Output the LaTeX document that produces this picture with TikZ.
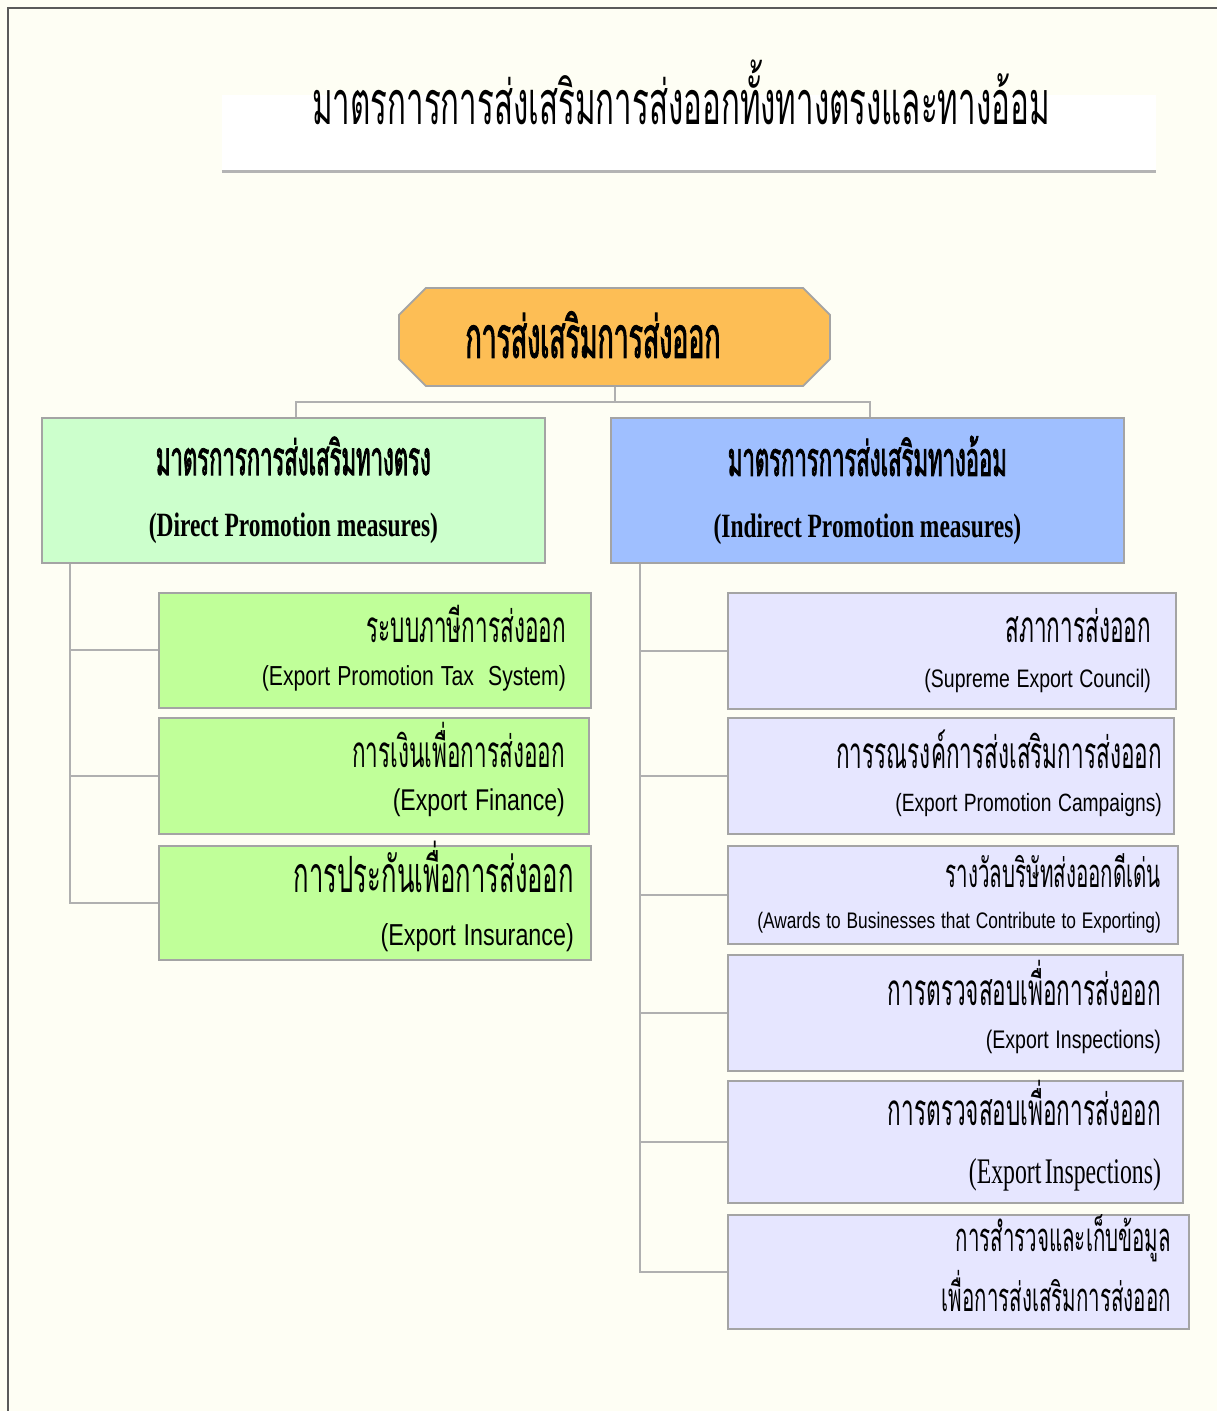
\documentclass[tikz,border=0pt]{standalone}
\usepackage{fontspec}
\usetikzlibrary{positioning,shapes.misc}
\newfontfamily\thaifont[Script=Thai,FakeStretch=0.513]{Loma}
\newfontfamily\thaibold[Script=Thai,FakeStretch=0.46,FakeBold=1.6]{Loma}
\newfontfamily\latinnarrow[FakeStretch=0.77]{Liberation Sans}
\newfontfamily\serifnarrow[FakeStretch=0.66]{Liberation Serif}
\newfontfamily\serifheading[FakeStretch=0.69]{Liberation Serif}
\definecolor{paper}{HTML}{FEFEF4}
\definecolor{framegray}{HTML}{5A5A5A}
\definecolor{rulegray}{HTML}{B4B4B4}
\definecolor{linegray}{HTML}{B0B0B0}
\definecolor{boxgray}{HTML}{A4A4A4}
\definecolor{promoorange}{HTML}{FDBE55}
\definecolor{directgreen}{HTML}{CCFFCC}
\definecolor{indirectblue}{HTML}{9FBFFF}
\definecolor{leafgreen}{HTML}{C0FF99}
\definecolor{leaflilac}{HTML}{E6E6FF}
\newcommand{\thaiat}[2]{{\thaifont\fontsize{#1}{#1}\selectfont\rule[-0.3em]{0pt}{1.08em}\smash{#2}}}
\newcommand{\thaiboldat}[2]{{\thaibold\fontsize{#1}{#1}\selectfont #2}}
\newcommand{\engat}[2]{{\latinnarrow\fontsize{#1}{#1}\selectfont\spaceskip=0.26em\rule[-0.25em]{0pt}{0.95em}#2}}
\newcommand{\serifat}[2]{{\serifnarrow\fontsize{#1}{#1}\selectfont\rule[-0.25em]{0pt}{0.95em}#2}}
\tikzset{
  conn/.style={draw=linegray, line width=2pt},
  midbox/.style={draw=boxgray, line width=1.8pt, anchor=north west, align=center, inner sep=0pt},
  leafbox/.style={draw=boxgray, line width=1.8pt, anchor=north west, align=right, inner ysep=0pt}
}

\begin{document}
\begin{tikzpicture}[x=1pt,y=-1pt]
	\fill[paper] (0,0) rectangle (1217,1411);
	\useasboundingbox (0,0) rectangle (1217,1411);
	\draw[framegray, line width=2.5pt] (8,1411) -- (8,8) -- (1217,8);
	
	% title
	\node (band) at (689,133) [fill=white, minimum width=934pt, minimum height=76pt, inner sep=0pt] {};
	\draw[rulegray, line width=3pt] (band.south west) -- (band.south east);
	\node (title) at (681,92) {{\thaifont\fontsize{61}{61}\selectfont มาตรการการส่งเสริมการส่งออกทั้งทางตรงและทางอ้อม}};
	
	% top and the two kinds of measures
	\node (promo) at (614.5,337) [chamfered rectangle, chamfered rectangle xsep=24pt, draw=boxgray, line width=1.8pt, fill=promoorange, minimum width=431pt, minimum height=98pt, inner sep=0pt] {\kern-43pt\raisebox{5pt}{\thaiboldat{58}{การส่งเสริมการส่งออก}}};
	
	\node (direct) at (41,417) [midbox, fill=directgreen, minimum width=503pt, minimum height=145pt] {\thaiboldat{48}{มาตรการการส่งเสริมทางตรง}\\[37pt] {\serifheading\fontsize{34}{34}\selectfont\bfseries (Direct Promotion measures)}};
	\node (indirect) at (610,417) [midbox, fill=indirectblue, minimum width=513pt, minimum height=145pt] {\thaiboldat{48}{มาตรการการส่งเสริมทางอ้อม}\\[37pt] {\serifheading\fontsize{34}{34}\selectfont\bfseries (Indirect Promotion measures)}};
	
	\draw[conn] (promo.south) -- ++(0,15) -| ([xshift=3pt]direct.north);
	\draw[conn] (promo.south) -- ++(0,15) -| ([xshift=3pt]indirect.north);
	
	% direct measures
	\node (tax) at (158,592) [leafbox, fill=leafgreen, inner xsep=25pt, text width=382pt, minimum height=115pt] {\thaiat{44}{ระบบภาษีการส่งออก}\\[9pt] \engat{27.5}{(Export Promotion Tax \ System)}};
	\node (finance) at (158,717) [leafbox, fill=leafgreen, inner xsep=24pt, text width=382pt, minimum height=116pt] {\thaiat{44}{การเงินเพื่อการส่งออก}\\[7pt] \engat{30}{(Export Finance)}};
	\node (insurance) at (158,845) [leafbox, fill=leafgreen, inner xsep=17pt, text width=398pt, minimum height=114pt] {\thaiat{50}{การประกันเพื่อการส่งออก}\\[15pt] \engat{30.3}{(Export Insurance)}};
	
	\draw[conn] ([xshift=29pt]direct.south west) |- (tax.west);
	\draw[conn] ([xshift=29pt]direct.south west) |- (finance.west);
	\draw[conn] ([xshift=29pt]direct.south west) |- (insurance.west);
	
	% indirect measures
	\node (council) at (727,592) [leafbox, fill=leaflilac, inner xsep=25pt, text width=398pt, minimum height=116pt] {\thaiat{44}{สภาการส่งออก}\\[13pt] \engat{25.3}{(Supreme Export Council)}};
	\node (campaign) at (727,717) [leafbox, fill=leaflilac, inner xsep=12pt, text width=422pt, minimum height=116pt] {\thaiat{44}{การรณรงค์การส่งเสริมการส่งออก}\\[11pt] \engat{25}{(Export Promotion Campaigns)}};
	\node (awards) at (727,845) [leafbox, fill=leaflilac, inner xsep=17pt, text width=416pt, minimum height=98pt] {\thaiat{40}{รางวัลบริษัทส่งออกดีเด่น}\\[12pt] \engat{22.5}{(Awards to Businesses that Contribute to Exporting)}};
	\node (inspect) at (727,954) [leafbox, fill=leaflilac, inner xsep=22pt, text width=411pt, minimum height=116pt] {\thaiat{44}{การตรวจสอบเพื่อการส่งออก}\\[11pt] \engat{25.4}{(Export Inspections)}};
	\node (inspectb) at (727,1080) [leafbox, fill=leaflilac, inner xsep=22pt, text width=411pt, minimum height=122pt] {\thaiat{44}{การตรวจสอบเพื่อการส่งออก}\\[18pt] \serifat{36}{(Export Inspections)}};
	\node (survey) at (727,1214) [leafbox, fill=leaflilac, inner xsep=18pt, text width=425pt, minimum height=114pt] {\thaiat{40}{การสำรวจและเก็บข้อมูล}\\[15pt] \thaiat{40}{เพื่อการส่งเสริมการส่งออก}};
	
	\draw[conn] ([xshift=30pt]indirect.south west) |- (council.west);
	\draw[conn] ([xshift=30pt]indirect.south west) |- (campaign.west);
	\draw[conn] ([xshift=30pt]indirect.south west) |- (awards.west);
	\draw[conn] ([xshift=30pt]indirect.south west) |- (inspect.west);
	\draw[conn] ([xshift=30pt]indirect.south west) |- (inspectb.west);
	\draw[conn] ([xshift=30pt]indirect.south west) |- (survey.west);
	
\end{tikzpicture}
\end{document}
